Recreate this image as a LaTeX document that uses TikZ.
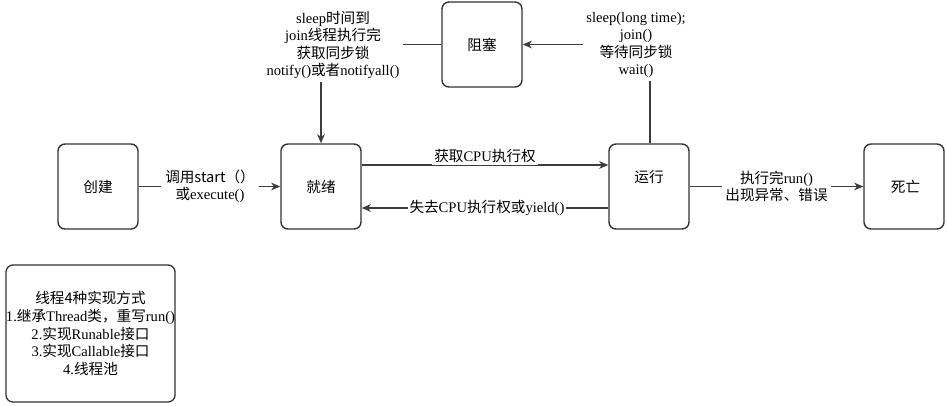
\documentclass[tikz,border=0pt]{standalone}
\usepackage{fontspec}
\setmainfont{Liberation Serif}
\newfontfamily\cjk{Noto Sans CJK SC}
\newcommand\zh[1]{{\cjk #1}}
\usetikzlibrary{arrows.meta}
\definecolor{ln}{HTML}{3c3c3c}
\definecolor{bx}{HTML}{333333}
\begin{document}
\begin{tikzpicture}[x=1pt,y=-1pt,
  font=\fontsize{14.6}{17.4}\selectfont,
  box/.style={draw=bx,line width=1.4pt,rounded corners=7pt,minimum width=80pt,minimum height=85pt,inner sep=0pt,align=center},
  arr/.style={draw=ln,line width=1.5pt,-{Stealth[length=9pt,width=7.5pt,inset=2.5pt]}},
  lbl/.style={fill=white,align=center,inner sep=3pt}]
\useasboundingbox (0,0) rectangle (947,405);
\node[box] (create) at (98,186.5) {\zh{创建}};
\node[box] (ready) at (321,186.5) {\zh{就绪}};
\node[box,label={[yshift=10pt]center:\zh{运行}}] (run) at (649,186.5) {};
\node[box] (dead) at (904,186.5) {\hspace*{3pt}\zh{死亡}};
\node[box] (block) at (482,44.5) {\zh{阻塞}};
\node[box,minimum width=169pt,minimum height=137pt,line width=1.3pt] (ways) at (90.5,333.5) {%
  \zh{线程4种实现方式}\\[0.3pt]
  1.\zh{继承}Thread\zh{类，重写}run()\\[0.3pt]
  2.\zh{实现}Runable\zh{接口}\\[0.3pt]
  3.\zh{实现}Callable\zh{接口}\\[0.3pt]
  4.\zh{线程池}};
% create -> ready
\draw[arr] (create) -- (ready) node[lbl,midway,inner xsep=4pt,xshift=0.5pt] {\zh{调用start（）}\\\zh{或}execute()};
% ready -> run
\draw[arr] ([yshift=21.5pt]ready.east) -- ([yshift=21.5pt]run.west) node[lbl,midway,yshift=9pt,inner sep=2pt] {\zh{获取}CPU\zh{执行权}};
% run -> ready
\draw[arr] ([yshift=-21.5pt]run.west) -- ([yshift=-21.5pt]ready.east) node[lbl,midway,xshift=2pt,inner sep=2pt] {\zh{失去}CPU\zh{执行权或}yield()};
% run -> dead
\draw[arr] (run) -- (dead) node[lbl,midway] {\zh{执行完}run()\\\zh{出现异常、错误}};
% run -> block
\draw[arr] ([xshift=1pt]run.north) |- (block.east) node[lbl,pos=0.5,xshift=-14pt,yshift=-0.5pt] {sleep(long time);\\join()\\\zh{等待同步锁}\\wait()};
% block -> ready
\draw[arr] (block.west) -| (ready.north) node[lbl,pos=0.5,xshift=12pt,yshift=-0.5pt] {sleep\zh{时间到}\\join\zh{线程执行完}\\\zh{获取同步锁}\\notify()\zh{或者}notifyall()};
\end{tikzpicture}
\end{document}
